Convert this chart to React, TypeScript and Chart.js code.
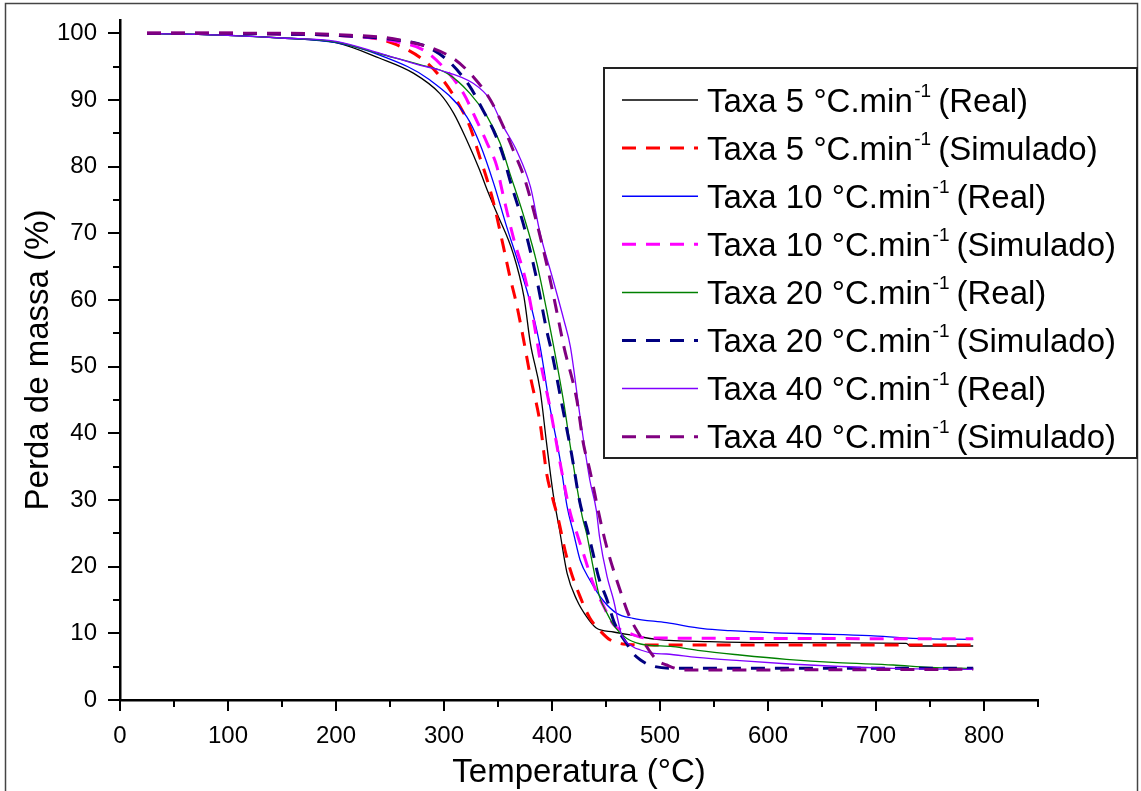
import React, { useEffect, useRef } from "react";
import { Chart, registerables } from "chart.js";

Chart.register(...registerables);

const FONT = "'Liberation Sans', Arial, Helvetica, sans-serif";

const xAxisTitle = "Temperatura (°C)";
const yAxisTitle = "Perda de massa (%)";

const legendPrefixes = [
  "Taxa 5 °C.min",
  "Taxa 5 °C.min",
  "Taxa 10 °C.min",
  "Taxa 10 °C.min",
  "Taxa 20 °C.min",
  "Taxa 20 °C.min",
  "Taxa 40 °C.min",
  "Taxa 40 °C.min",
];
const legendSup = "-1";
const legendSuffixes = [
  "(Real)",
  "(Simulado)",
  "(Real)",
  "(Simulado)",
  "(Real)",
  "(Simulado)",
  "(Real)",
  "(Simulado)",
];

// Taxa 5 Real
const t5Real = [25, 100, 150, 200, 240, 272, 296, 309, 321, 333, 340, 349, 364, 374, 380, 389, 395, 401, 407, 414, 423, 432, 441, 457, 475, 497, 546, 602, 728, 732, 790];
const m5Real = [100, 99.7, 99.3, 98.6, 96.3, 94, 91, 88, 84, 79.5, 76.5, 73, 67, 60.5, 53.5, 46.5, 38.5, 31, 25.5, 19, 15, 12.5, 10.8, 10.2, 9.7, 9.1, 8.75, 8.6, 8.5, 8.1, 8.1];
// Taxa 5 Simulado
const t5Sim = [25, 100, 150, 200, 234, 256, 281, 299, 315, 324, 333, 340, 346, 355, 361, 367, 372, 380, 389, 395, 401, 406, 412, 417, 426, 435, 445, 454, 475, 512, 790];
const m5Sim = [100, 100, 99.9, 99.7, 99.3, 98.3, 96, 93, 89, 86, 81.5, 78, 74.5, 68, 63.5, 59.5, 55.5, 48.5, 41.5, 34, 30, 27, 22.5, 19.5, 15.5, 12.3, 10.3, 9, 8.3, 8.25, 8.25];
// Taxa 10 Real
const t10Real = [25, 100, 150, 200, 241, 287, 321, 333, 346, 358, 370, 380, 389, 398, 407, 414, 420, 426, 435, 447, 460, 475, 506, 540, 565, 602, 648, 694, 734, 790];
const m10Real = [100, 99.7, 99.3, 98.6, 96.7, 93, 87.5, 83.5, 77.5, 71, 65, 59.5, 53, 44, 36.5, 29, 25, 21, 18, 15, 13, 12.25, 11.6, 10.7, 10.4, 10.1, 9.9, 9.65, 9.25, 9.1];
// Taxa 10 Simulado
const t10Sim = [25, 100, 150, 200, 240, 260, 281, 299, 318, 330, 340, 349, 353, 364, 377, 386, 389, 398, 407, 417, 423, 431, 438, 448, 457, 469, 488, 790];
const m10Sim = [100, 100, 99.9, 99.7, 99.2, 98.6, 97.5, 95, 91, 87, 83.5, 80, 77, 69.5, 62, 54, 51, 44, 36, 28, 25, 21, 17.5, 14, 11.3, 10.2, 9.3, 9.2];
// Taxa 20 Real
const t20Real = [25, 100, 150, 200, 241, 280, 303, 324, 340, 352, 361, 374, 386, 395, 401, 411, 417, 423, 428, 432, 438, 444, 451, 458, 469, 482, 512, 537, 574, 617, 664, 716, 750, 790];
const m20Real = [100, 99.7, 99.3, 98.7, 96.9, 95.2, 94, 91, 87.5, 83.5, 79, 72.5, 65.5, 58.5, 53.5, 44.5, 38, 32, 27.5, 25, 20, 15.5, 13, 11, 9.25, 8.4, 8, 7.4, 6.75, 6.1, 5.6, 5.25, 4.9, 4.75];
// Taxa 20 Simulado
const t20Sim = [25, 100, 150, 200, 256, 281, 303, 324, 336, 347, 355, 361, 375, 386, 395, 400, 409, 418, 426, 432, 438, 443, 451, 458, 469, 475, 482, 491, 515, 790];
const m20Sim = [100, 100, 99.9, 99.7, 99, 98.2, 96, 92, 88.5, 85, 81.5, 78, 70.5, 63, 55.5, 52, 44.5, 37, 29.5, 26, 22, 18.5, 15, 11.5, 8.5, 7, 6, 5.2, 4.75, 4.75];
// Taxa 40 Real
const t40Real = [25, 100, 150, 200, 241, 278, 296, 327, 343, 355, 367, 380, 389, 401, 411, 417, 426, 435, 441, 444, 451, 457, 461, 464, 475, 482, 494, 506, 534, 574, 620, 657, 716, 790];
const m40Real = [100, 99.7, 99.3, 98.8, 97, 95.2, 94.5, 92.5, 90, 86, 82.5, 77, 70, 63, 57, 53, 42.5, 33, 28.5, 24.5, 18.5, 15, 12, 10, 8, 7.5, 7, 6.9, 6.4, 5.9, 5.4, 5.1, 4.75, 4.6];
// Taxa 40 Simulado
const t40Sim = [25, 100, 150, 200, 259, 306, 327, 343, 355, 364, 374, 386, 397, 406, 411, 423, 429, 435, 444, 449, 455, 463, 471, 482, 497, 506, 522, 790];
const m40Sim = [100, 100, 100, 99.8, 99, 96.5, 93.5, 90, 86, 82.5, 78.5, 71.5, 64, 57, 53, 45, 38.5, 34.5, 27.5, 24, 20.5, 16.5, 12.8, 9.5, 6, 5.25, 4.5, 4.6];

const seriesT = [t5Real, t5Sim, t10Real, t10Sim, t20Real, t20Sim, t40Real, t40Sim];
const seriesM = [m5Real, m5Sim, m10Real, m10Sim, m20Real, m20Sim, m40Real, m40Sim];

const seriesColors = ["#000000", "#FF0000", "#0000FF", "#FF00FF", "#008000", "#000080", "#8000FF", "#800080"];
const seriesDashed = [false, true, false, true, false, true, false, true];

const DASH = [14, 10];

const framePlugin = {
  id: "frameAndTicks",
  beforeDraw(chart: any) {
    const ctx = chart.ctx;
    ctx.save();
    ctx.fillStyle = "#ffffff";
    ctx.fillRect(0, 0, chart.width, chart.height);
    ctx.restore();
  },
  afterDraw(chart: any) {
    const ctx = chart.ctx;
    const xs = chart.scales.x;
    const ys = chart.scales.y;
    ctx.save();
    // outer frame
    ctx.strokeStyle = "#444";
    ctx.lineWidth = 1.5;
    ctx.strokeRect(5.5, 3.5, 1132, 900);

    // tick marks
    ctx.strokeStyle = "#000";
    ctx.lineWidth = 2;
    const axisY = chart.chartArea.bottom;
    const axisX = chart.chartArea.left;
    xs.ticks.forEach((t: any) => {
      const px = Math.round(xs.getPixelForValue(t.value));
      const major = t.value % 100 === 0;
      ctx.beginPath();
      ctx.moveTo(px, axisY);
      ctx.lineTo(px, axisY + (major ? 11 : 7));
      ctx.stroke();
    });
    ys.ticks.forEach((t: any) => {
      const py = Math.round(ys.getPixelForValue(t.value));
      const major = t.value % 10 === 0;
      ctx.beginPath();
      ctx.moveTo(axisX, py);
      ctx.lineTo(axisX - (major ? 12 : 7), py);
      ctx.stroke();
    });

    // legend
    const bx = 604, by = 68, bw = 533, bh = 390;
    ctx.strokeStyle = "#222";
    ctx.lineWidth = 2;
    ctx.strokeRect(bx, by, bw, bh);
    for (let i = 0; i < legendPrefixes.length; i++) {
      const ry = 100 + i * 48.1;
      ctx.beginPath();
      ctx.strokeStyle = seriesColors[i];
      ctx.lineWidth = seriesDashed[i] ? 3 : 1.5;
      ctx.setLineDash(seriesDashed[i] ? DASH : []);
      ctx.moveTo(622, ry);
      ctx.lineTo(698, ry);
      ctx.stroke();
      ctx.setLineDash([]);

      ctx.fillStyle = "#000";
      ctx.textAlign = "left";
      ctx.textBaseline = "alphabetic";
      ctx.font = `33px ${FONT}`;
      let x = 707;
      ctx.fillText(legendPrefixes[i], x, ry + 11.5);
      x += ctx.measureText(legendPrefixes[i]).width + 1.5;
      ctx.font = `19px ${FONT}`;
      ctx.fillText(legendSup, x, ry - 3.5);
      x += ctx.measureText(legendSup).width + 7;
      ctx.font = `33px ${FONT}`;
      ctx.fillText(legendSuffixes[i], x, ry + 11.5);
    }
    ctx.restore();
  },
};

export default function App() {
  const ref = useRef<HTMLCanvasElement | null>(null);

  useEffect(() => {
    if (!ref.current) return;
    const datasets = seriesT.map((ts, i) => ({
      label: legendPrefixes[i] + legendSup + " " + legendSuffixes[i],
      data: ts.map((t, j) => ({ x: t, y: seriesM[i][j] })),
      borderColor: seriesColors[i],
      backgroundColor: seriesColors[i],
      borderWidth: seriesDashed[i] ? 3 : 1.3,
      borderDash: seriesDashed[i] ? DASH : [],
      pointRadius: 0,
      fill: false,
      cubicInterpolationMode: "monotone" as const,
      order: seriesT.length - 1 - i,
    }));

    const chart = new Chart(ref.current, {
      type: "line",
      data: { datasets },
      plugins: [framePlugin],
      options: {
        animation: false,
        responsive: false,
        maintainAspectRatio: false,
        layout: { padding: { left: 0, top: 20, right: 103, bottom: 0 } },
        plugins: {
          legend: { display: false },
          tooltip: { enabled: false },
          title: { display: false },
        },
        scales: {
          x: {
            type: "linear",
            min: 0,
            max: 850,
            grid: { display: false, drawTicks: false, tickLength: 0 },
            border: { display: true, color: "#000", width: 2.5 },
            ticks: {
              stepSize: 50,
              includeBounds: false,
              autoSkip: false,
              maxRotation: 0,
              minRotation: 0,
              padding: 22,
              color: "#000",
              font: { family: FONT, size: 24 },
              callback: (v: any) => (Number(v) % 100 === 0 ? String(v) : ""),
            },
            title: {
              display: true,
              text: xAxisTitle,
              color: "#000",
              font: { family: FONT, size: 33, lineHeight: 1.1 },
              padding: { top: 0, bottom: 0 },
            },
            afterFit: (s: any) => {
              s.height = 91;
              s.paddingLeft = 0;
              s.paddingRight = 0;
            },
          },
          y: {
            type: "linear",
            min: 0,
            max: 102,
            grid: { display: false, drawTicks: false, tickLength: 0 },
            border: { display: true, color: "#000", width: 2.5 },
            ticks: {
              stepSize: 5,
              includeBounds: false,
              autoSkip: false,
              padding: 23,
              color: "#000",
              font: { family: FONT, size: 24 },
              callback: (v: any) => (Number(v) % 10 === 0 ? String(v) : ""),
            },
            title: {
              display: true,
              text: yAxisTitle,
              color: "#000",
              font: { family: FONT, size: 33, lineHeight: 1.1 },
              padding: { top: 21, bottom: 0 },
            },
            afterFit: (s: any) => {
              s.width = 120;
              s.paddingTop = 0;
              s.paddingBottom = 0;
            },
          },
        },
      } as any,
    });
    return () => chart.destroy();
  }, []);

  return (
    <canvas
      ref={ref}
      width={1141}
      height={791}
      style={{ position: "absolute", left: 0, top: 0, width: 1141, height: 791, display: "block" }}
    />
  );
}
